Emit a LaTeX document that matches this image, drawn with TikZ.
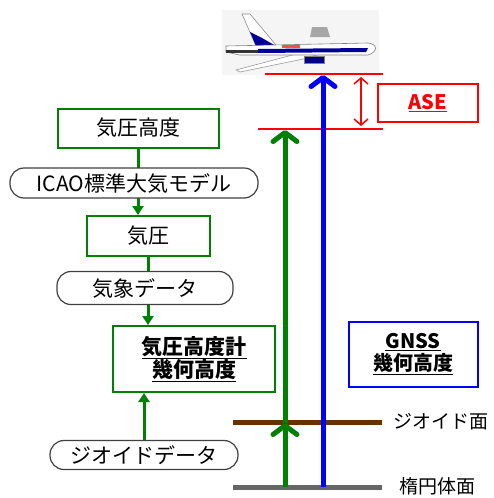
\documentclass[tikz,border=0pt]{standalone}
\usepackage{fontspec}
\setmainfont{Noto Sans CJK JP}
\usepackage{tikz}
\usetikzlibrary{arrows.meta}
\tikzset{>={Latex[width=1.5mm,length=1.5mm]}}
\definecolor{kgreen}{RGB}{0,128,0}
\definecolor{kbrown}{RGB}{102,51,0}

\begin{document}
\begin{tikzpicture}[
    x=1pt, y=-1pt,
    font=\fontsize{21}{24}\selectfont,
    gbox/.style = {draw=kgreen, line width=2pt, inner sep=0pt, fill=white},
    rbox/.style = {draw=black!75, line width=1.2pt, rounded corners=14pt,
        inner sep=0pt, fill=white},
    feed/.style = {kgreen, line width=3pt, -{Triangle[length=9pt,width=11pt]}},
    height/.style = {line width=5pt, -{Straight Barb[length=9pt,width=24pt,round]}},
    level/.style = {line width=5pt},
    ref/.style = {red, line width=2.5pt},
    side/.style = {anchor=west, inner sep=0pt, font=\fontsize{19}{22}\selectfont}
  ]
  \useasboundingbox (0,0) rectangle (494,498);

  % airplane
  \fill[black!4] (222,10) rectangle (379,75);
  \fill[black!35] (312,27) -- (327,27) -- (330,37) -- (310,37) -- cycle;
  \filldraw[fill=white, draw=black!40, line width=.6pt]
    (236,70) -- (300,53) -- (318,56) -- (240,72) -- cycle;
  \filldraw[fill=white, draw=black!45, line width=.6pt]
    (256,46) -- (242,14) -- (250,14) -- (276,45) -- cycle;
  \fill[blue!60!black] (256,46) -- (250,32) -- (262,38) -- (276,46) -- cycle;
  \filldraw[fill=white, draw=black!50, line width=.6pt]
    (226,46) -- (368,43) .. controls (378,44) and (378,52) .. (368,55)
    -- (240,55) -- (226,52) -- cycle;
  \fill[black!80] (226,50) rectangle (262,53);
  \fill[blue!60!black] (258,49) -- (368,48) -- (366,52) -- (258,53) -- cycle;
  \fill[red!70] (282,45) rectangle (300,48);
  \filldraw[fill=blue!50!black, draw=black!50] (304,56) rectangle (324,63);

  % reference levels
  \coordinate (top-l) at (265,74);  \coordinate (top-r) at (383,74);
  \coordinate (baro-l) at (258,129); \coordinate (baro-r) at (383,129);
  \coordinate (geo-l) at (233,422); \coordinate (geo-r) at (382,422);
  \coordinate (ell-l) at (233,487); \coordinate (ell-r) at (382,487);

  \draw[ref] (top-l) -- (top-r);
  \draw[ref] (baro-l) -- (baro-r);
  \draw[level, kbrown] (geo-l) -- (geo-r);
  \draw[level, black!60] (ell-l) -- (ell-r);

  \node[side] (geo) at (393,422) {ジオイド面};
  \node[side] (ell) at (399,486) {楕円体面};

  % heights
  \coordinate (gnss-b) at (323,487); \coordinate (gnss-t) at (323,75);
  \coordinate (alt-b) at (285,487); \coordinate (alt-m) at (285,423);
  \coordinate (alt-t) at (285,130);
  \draw[height, blue] (gnss-b) -- (gnss-t);
  \draw[height, kgreen] (alt-b) -- (alt-m);
  \draw[height, kgreen] (alt-m) -- (alt-t);

  \coordinate (ase-t) at (361,77); \coordinate (ase-b) at (361,126);
  \draw[red, line width=1.5pt, {Straight Barb[length=6pt,width=14pt]}-{Straight Barb[length=6pt,width=14pt]}]
    (ase-t) -- (ase-b);
  \node[draw=red, line width=2pt, minimum width=100pt, minimum height=38pt,
    text=red, font=\fontsize{20}{24}\selectfont\bfseries] (ase) at (428,103) {\underline{ASE}};

  \node[draw=blue, line width=2pt, minimum width=129pt, minimum height=65pt,
    align=center, font=\fontsize{20}{22}\selectfont\bfseries] (gnss) at (413,354)
    {\underline{GNSS}\\\underline{幾何高度}};

  % barometric chain
  \node[gbox, minimum width=161pt, minimum height=39pt] (pa) at (138,128) {気圧高度};
  \node[gbox, minimum width=123pt, minimum height=40pt] (pr) at (148,236) {気圧};
  \node[gbox, minimum width=162pt, minimum height=66pt, align=center,
    font=\fontsize{21}{23}\selectfont\bfseries] (alt) at (194,359)
    {\underline{気圧高度計}\\\underline{幾何高度}};

  \draw[feed] (pa.south) -- (pa.south |- pr.north);
  \draw[feed] (pr.south) -- (pr.south |- alt.north);

  \node[rbox, minimum width=248pt, minimum height=30pt] (icao) at (134,183) {ICAO標準大気モデル};
  \node[rbox, minimum width=176pt, minimum height=33pt] (met) at (145,288) {気象データ};
  \node[rbox, minimum width=188pt, minimum height=29pt] (gd) at (144,455) {ジオイドデータ};

  \draw[feed] (gd.north) -- (gd.north |- alt.south);
\end{tikzpicture}
\end{document}
